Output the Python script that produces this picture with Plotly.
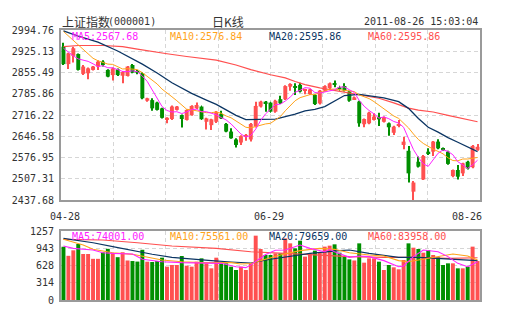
import plotly.graph_objects as go

# ---- daily K-line data, Shanghai Composite (000001), 2011-04-28 .. 2011-08-26 ----
opens = [2940, 2883, 2910, 2916, 2851, 2853, 2864, 2875, 2891, 2864,
         2847, 2866, 2845, 2844, 2880, 2860, 2853, 2763, 2765, 2757,
         2738, 2700, 2703, 2733, 2716, 2700, 2716, 2738, 2744, 2694,
         2683, 2694, 2720, 2687, 2662, 2636, 2626, 2645, 2636, 2678,
         2744, 2760, 2757, 2727, 2768, 2768, 2809, 2811, 2815, 2796,
         2785, 2782, 2754, 2796, 2804, 2820, 2807, 2811, 2793, 2768,
         2760, 2686, 2689, 2700, 2709, 2694, 2689, 2658, 2681, 2618,
         2599, 2465, 2563, 2505, 2596, 2596, 2629, 2607, 2596, 2516,
         2536, 2525, 2563, 2545, 2602]
closes = [2883, 2918, 2935, 2864, 2875, 2869, 2875, 2891, 2880, 2842,
          2869, 2847, 2857, 2875, 2855, 2856, 2771, 2771, 2738, 2733,
          2707, 2707, 2744, 2744, 2703, 2733, 2746, 2749, 2702, 2705,
          2702, 2727, 2705, 2662, 2640, 2618, 2647, 2651, 2687, 2746,
          2760, 2754, 2727, 2763, 2755, 2811, 2818, 2807, 2793, 2800,
          2800, 2752, 2796, 2811, 2820, 2815, 2800, 2796, 2763, 2774,
          2689, 2703, 2724, 2711, 2702, 2709, 2676, 2678, 2687, 2629,
          2525, 2495, 2547, 2582, 2591, 2629, 2607, 2602, 2556, 2536,
          2514, 2558, 2541, 2615, 2612]
highs = [2953, 2920, 2940, 2918, 2880, 2872, 2877, 2896, 2896, 2866,
         2872, 2869, 2860, 2877, 2883, 2864, 2856, 2773, 2771, 2760,
         2740, 2709, 2747, 2746, 2718, 2735, 2748, 2757, 2747, 2707,
         2704, 2729, 2730, 2690, 2673, 2640, 2650, 2654, 2690, 2760,
         2763, 2762, 2760, 2766, 2779, 2814, 2820, 2820, 2822, 2802,
         2802, 2784, 2798, 2814, 2823, 2829, 2812, 2820, 2796, 2777,
         2763, 2705, 2727, 2722, 2724, 2711, 2692, 2681, 2700, 2645,
         2615, 2500, 2580, 2585, 2607, 2631, 2637, 2610, 2599, 2538,
         2552, 2560, 2566, 2618, 2621]
lows = [2880, 2867, 2888, 2862, 2847, 2833, 2862, 2864, 2875, 2840,
        2829, 2844, 2820, 2842, 2853, 2850, 2768, 2760, 2730, 2731,
        2705, 2689, 2700, 2731, 2675, 2698, 2714, 2736, 2700, 2669,
        2667, 2690, 2703, 2660, 2638, 2610, 2618, 2632, 2629, 2675,
        2741, 2727, 2724, 2724, 2752, 2765, 2796, 2782, 2790, 2784,
        2782, 2749, 2751, 2793, 2801, 2807, 2796, 2793, 2760, 2765,
        2678, 2676, 2686, 2698, 2680, 2692, 2648, 2651, 2676, 2604,
        2495, 2437.68, 2544, 2503, 2585, 2582, 2604, 2599, 2553, 2512,
        2505, 2516, 2538, 2542, 2599]

# moving averages of the index (values along each line)
ma5 = [2935, 2922, 2910, 2900, 2895, 2892, 2884, 2875, 2878, 2871,
       2871, 2866, 2859, 2858, 2861, 2858, 2844, 2826, 2799, 2775,
       2744, 2731, 2726, 2727, 2721, 2726, 2734, 2735, 2727, 2727,
       2721, 2717, 2708, 2700, 2687, 2670, 2654, 2644, 2649, 2670,
       2698, 2720, 2735, 2750, 2752, 2762, 2775, 2791, 2797, 2806,
       2804, 2790, 2788, 2792, 2796, 2799, 2808, 2808, 2799, 2790,
       2764, 2745, 2731, 2720, 2706, 2710, 2704, 2695, 2690, 2676,
       2639, 2603, 2577, 2556, 2548, 2569, 2591, 2602, 2597, 2586,
       2563, 2553, 2541, 2553, 2568]
ma10 = [2990, 2975, 2960, 2945, 2929, 2915, 2902, 2894, 2888, 2883,
        2882, 2875, 2867, 2868, 2866, 2865, 2855, 2843, 2829, 2818,
        2801, 2787, 2776, 2763, 2748, 2735, 2733, 2730, 2727, 2724,
        2724, 2726, 2722, 2713, 2707, 2696, 2686, 2676, 2674, 2679,
        2684, 2687, 2689, 2699, 2711, 2730, 2747, 2763, 2773, 2779,
        2783, 2783, 2790, 2794, 2801, 2801, 2799, 2798, 2795, 2793,
        2782, 2777, 2770, 2760, 2748, 2737, 2725, 2713, 2705, 2691,
        2674, 2654, 2636, 2623, 2612, 2604, 2597, 2589, 2576, 2567,
        2566, 2572, 2572, 2575, 2577]
ma20_days = [0, 3, 7, 11, 16, 19, 22, 26, 29, 31, 33, 35, 37, 40, 43, 45, 47,
             49, 51, 53, 55, 57, 60, 63, 65, 68, 70, 72, 74, 76, 78, 80, 82, 84]
ma20 = [2992, 2975, 2955, 2926, 2883, 2854, 2822, 2787, 2765, 2751, 2733,
        2715, 2701, 2701, 2703, 2711, 2719, 2730, 2735, 2744, 2763, 2780,
        2784, 2777, 2772, 2760, 2738, 2705, 2676, 2660, 2642, 2627, 2612, 2596]
ma60_days = [0, 3, 8, 12, 15, 18, 21, 25, 31, 35, 38, 42, 45, 47, 49, 52, 54,
             57, 61, 64, 67, 70, 72, 75, 78, 81, 84]
ma60 = [2940, 2944, 2944, 2940, 2932, 2924, 2917, 2908, 2896, 2880, 2865,
        2848, 2838, 2826, 2816, 2805, 2799, 2790, 2778, 2771, 2756, 2739,
        2732, 2726, 2715, 2705, 2694]

# trading volume
volumes = [970, 805, 905, 1020, 838, 838, 750, 750, 868, 932,
           850, 780, 870, 720, 710, 700, 915, 698, 692, 710,
           771, 607, 638, 638, 802, 625, 607, 698, 759, 668,
           577, 771, 668, 668, 607, 547, 607, 547, 668, 1172,
           929, 820, 820, 850, 850, 1123, 1032, 941, 1081, 790,
           850, 899, 862, 972, 990, 1014, 862, 790, 740, 720,
           1032, 680, 759, 759, 698, 547, 638, 595, 559, 729,
           1032, 953, 929, 862, 911, 820, 777, 638, 668, 668,
           577, 577, 607, 972, 710]
vma5_days = [0, 2, 6, 8, 10, 14, 16, 20, 24, 28, 32, 35, 37, 38, 39, 41, 43,
             45, 48, 50, 53, 54, 55, 58, 60, 62, 65, 68, 69, 71, 73, 76, 78,
             80, 82, 84]
vma5 = [984, 941, 911, 862, 850, 838, 741, 698, 680, 680, 668, 607, 590, 640,
        700, 830, 905, 911, 1002, 941, 880, 923, 880, 777, 802, 790, 717, 607,
        619, 790, 911, 880, 790, 668, 607, 698]
vma10_days = [0, 4, 6, 10, 14, 17, 20, 24, 28, 34, 36, 38, 41, 44, 48, 52, 55,
              58, 62, 65, 68, 70, 72, 76, 79, 82, 84]
vma10 = [1105, 1002, 923, 862, 832, 777, 729, 698, 680, 680, 656, 665, 741,
         820, 899, 941, 923, 862, 820, 802, 717, 698, 729, 790, 838, 802, 729]
vma20_days = [0, 6, 10, 14, 18, 22, 26, 30, 34, 38, 42, 46, 50, 56, 58, 62,
              65, 68, 72, 76, 80, 84]
vma20 = [1123, 1044, 972, 899, 832, 777, 741, 717, 692, 675, 741, 790, 850,
         899, 911, 850, 820, 777, 777, 759, 729, 717]
vma60_days = [0, 8, 15, 22, 31, 38, 45, 52, 58, 65, 72, 78, 84]
vma60 = [1105, 1093, 1044, 984, 941, 880, 850, 820, 790, 777, 777, 759, 771]

price_ticks = [2437.68, 2507.31, 2576.95, 2646.58, 2716.22, 2785.86,
               2855.49, 2925.13, 2994.76]
volume_ticks = [0, 314, 628, 943, 1257]
date_labels = ["04-28", "06-29", "08-26"]
date_label_days = [0, 42, 84]

ma_legend = ["MA5:2567.68", "MA10:2576.84", "MA20:2595.86", "MA60:2595.86"]
vol_legend = ["MA5:74001.00", "MA10:75561.00", "MA20:79659.00", "MA60:83958.00"]

# ---- styles ----
RED = "#ff5050"
GREEN = "#008f00"
C_MA5 = "#ff22ff"
C_MA10 = "#ffa31a"
C_MA20 = "#0b3563"
C_MA60 = "#ff4f4f"
GRID = "#d6d6d6"
FRAME = "#9a9a9a"
MONO = "DejaVu Sans Mono"
CJK = "Noto Sans CJK SC"

W, H = 505, 330
L, R, T, B = 55, 25, 30, 30
PW, PH = W - L - R, H - T - B

days = list(range(len(closes)))
up = [c >= o for o, c in zip(opens, closes)]
colors = [RED if u else GREEN for u in up]

fig = go.Figure()

# wicks
fig.add_trace(go.Bar(
    x=days, base=lows, y=[h - l for h, l in zip(highs, lows)],
    width=0.2, marker=dict(color=colors, line=dict(width=0)),
    xaxis="x", yaxis="y", hoverinfo="skip"))
# bodies
fig.add_trace(go.Bar(
    x=days, base=[min(o, c) for o, c in zip(opens, closes)],
    y=[max(abs(c - o), 1.5) for o, c in zip(opens, closes)],
    width=0.8, marker=dict(color=colors, line=dict(width=0)),
    xaxis="x", yaxis="y", hoverinfo="skip"))

# moving-average lines on the price panel
fig.add_trace(go.Scatter(x=ma60_days, y=ma60, mode="lines",
                         line=dict(color=C_MA60, width=1.2), xaxis="x", yaxis="y"))
fig.add_trace(go.Scatter(x=ma20_days, y=ma20, mode="lines",
                         line=dict(color=C_MA20, width=1.3), xaxis="x", yaxis="y"))
fig.add_trace(go.Scatter(x=days, y=ma10, mode="lines",
                         line=dict(color=C_MA10, width=1), xaxis="x", yaxis="y"))
fig.add_trace(go.Scatter(x=days, y=ma5, mode="lines",
                         line=dict(color=C_MA5, width=1), xaxis="x", yaxis="y"))

# volume panel
fig.add_trace(go.Bar(x=days, y=volumes, width=0.8,
                     marker=dict(color=colors, line=dict(width=0)),
                     xaxis="x2", yaxis="y2", hoverinfo="skip"))
for dx, dy, col in [(vma60_days, vma60, C_MA60), (vma20_days, vma20, C_MA20),
                    (vma10_days, vma10, C_MA10), (vma5_days, vma5, C_MA5)]:
    fig.add_trace(go.Scatter(x=dx, y=dy, mode="lines",
                             line=dict(color=col, width=1.1),
                             xaxis="x2", yaxis="y2"))

grid_x = [-0.5 + len(days) * k / 8 for k in range(1, 8)]
axis_common = dict(showline=True, mirror=True, linecolor=FRAME, linewidth=2,
                   zeroline=False, showgrid=True, gridcolor=GRID, gridwidth=1,
                   griddash="4px,3px", ticks="",
                   tickfont=dict(family=MONO, size=10, color="#333"))

main_bottom = (H - B - 200) / PH
vol_top = (H - B - 231) / PH

fig.update_layout(
    width=W, height=H, margin=dict(l=L, r=R, t=T, b=B),
    paper_bgcolor="white", plot_bgcolor="white",
    showlegend=False, barmode="overlay", hovermode=False,
    xaxis=dict(axis_common, domain=[0, 1], anchor="y",
               range=[-0.5, len(days) - 0.5], tickvals=grid_x,
               showticklabels=False),
    yaxis=dict(axis_common, domain=[main_bottom, 1], anchor="x",
               range=[price_ticks[0], price_ticks[-1]], ticklabelstandoff=3,
               tickvals=price_ticks, ticktext=[f"{v:.2f}" for v in price_ticks]),
    xaxis2=dict(axis_common, domain=[0, 1], anchor="y2",
                range=[-0.5, len(days) - 0.5], tickvals=grid_x,
                showticklabels=False),
    yaxis2=dict(axis_common, domain=[0, vol_top], anchor="x2",
                range=[volume_ticks[0], volume_ticks[-1]], ticklabelstandoff=3,
                tickvals=volume_ticks, ticktext=[str(v) for v in volume_ticks]),
)


def paper(xp, yp):
    return (xp - L) / PW, (H - B - yp) / PH


def label(text, xp, yp, color="#333", size=10, family=MONO, anchor="left"):
    x, y = paper(xp, yp)
    fig.add_annotation(text=text, x=x, y=y, xref="paper", yref="paper",
                       xanchor=anchor, yanchor="middle", showarrow=False,
                       font=dict(family=family, size=size, color=color))


# title row
label("上证指数", 54, 22, size=12, family=CJK)
label("(000001)", 101, 22)
label("日K线", 206, 22, size=12, family=CJK)
label("2011-08-26 15:03:04", 480, 22, anchor="right")

# MA legends inside both panels
ma_colors = [C_MA5, C_MA10, C_MA20, C_MA60]
for i, (t1, t2) in enumerate(zip(ma_legend, vol_legend)):
    label(t1, 64 + 100 * i, 37, color=ma_colors[i])
    label(t2, 64 + 100 * i, 237, color=ma_colors[i])

# date labels under the price panel
for d, t in zip(date_label_days, date_labels):
    xp = L + (d + 0.5) * PW / len(days)
    if d == date_label_days[-1]:
        label(t, 484, 216, anchor="right")
    elif d == 0:
        label(t, xp + 2, 216, anchor="center")
    else:
        label(t, xp - 2, 216, anchor="center")

fig.write_html("out.html")
